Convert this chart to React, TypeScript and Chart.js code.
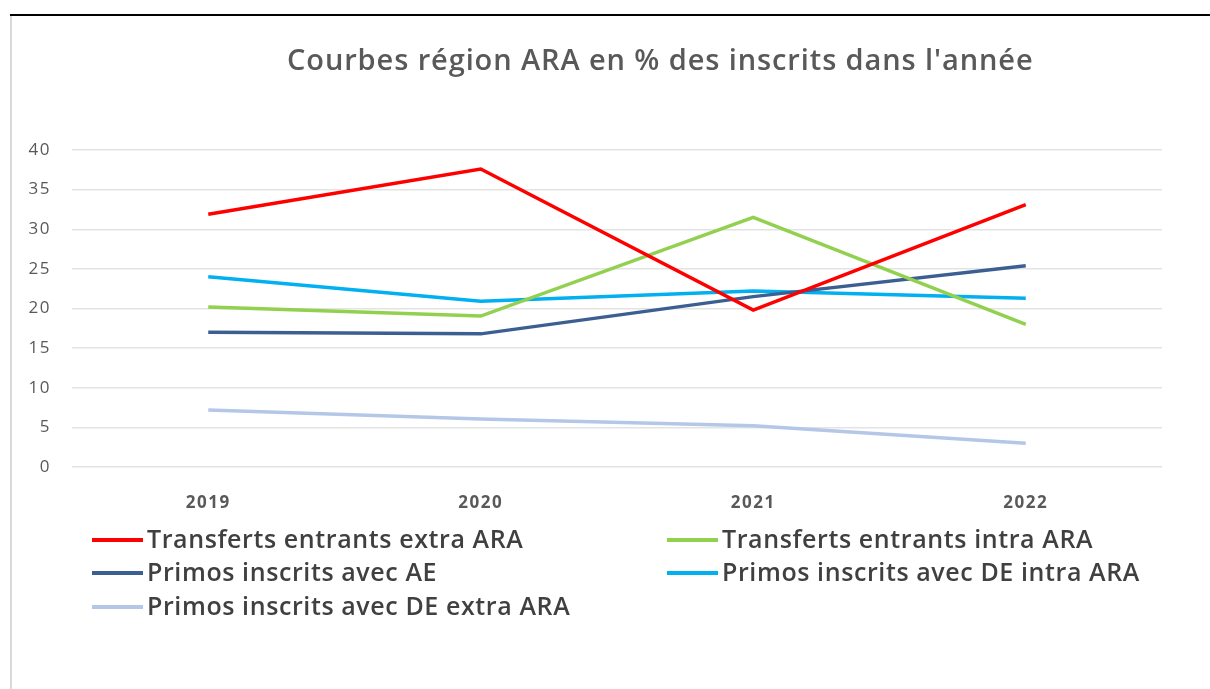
import React, { useEffect, useRef } from "react";
import { Chart, registerables } from "chart.js";

Chart.register(...registerables);

const categories = ["2019", "2020", "2021", "2022"];
const transfertsExtra = [31.9, 37.6, 19.8, 33.1];
const transfertsIntra = [20.2, 19.05, 31.5, 18.0];
const primosAE = [17.0, 16.8, 21.5, 25.4];
const primosDEIntra = [24.0, 20.9, 22.2, 21.3];
const primosDEExtra = [7.2, 6.05, 5.2, 3.0];
const yTicks = [0, 5, 10, 15, 20, 25, 30, 35, 40];

const seriesNames = [
  "Transferts entrants extra ARA",
  "Transferts entrants intra ARA",
  "Primos inscrits avec AE",
  "Primos inscrits avec DE intra ARA",
  "Primos inscrits avec DE extra ARA",
];
const seriesColors = ["#ff0000", "#92d050", "#3c5f91", "#00b0f0", "#b4c7e7"];
const titleText = "Courbes région ARA en % des inscrits dans l'année";

const FONT = "'Open Sans', 'Noto Sans', sans-serif";

const decorPlugin = {
  id: "decor",
  beforeDraw(chart: any) {
    const ctx = chart.ctx;
    ctx.save();
    ctx.fillStyle = "#ffffff";
    ctx.fillRect(0, 0, chart.width, chart.height);
    ctx.strokeStyle = "#000000";
    ctx.lineWidth = 2;
    ctx.beginPath();
    ctx.moveTo(10, 15);
    ctx.lineTo(chart.width, 15);
    ctx.stroke();
    ctx.strokeStyle = "#d9d9d9";
    ctx.lineWidth = 2;
    ctx.beginPath();
    ctx.moveTo(11, 16);
    ctx.lineTo(11, chart.height);
    ctx.stroke();
    ctx.fillStyle = "#595959";
    ctx.font = `600 29px ${FONT}`;
    (ctx as any).letterSpacing = "0.9px";
    ctx.textAlign = "left";
    ctx.textBaseline = "alphabetic";
    ctx.fillText(titleText, 287, 70);
    ctx.restore();
    (ctx as any).letterSpacing = "1.5px";
  },
  afterDraw(chart: any) {
    const ctx = chart.ctx;
    ctx.save();
    const pos = [
      [92, 540],
      [667, 540],
      [92, 573],
      [667, 573],
      [92, 607],
    ];
    chart.data.datasets.forEach((ds: any, i: number) => {
      const [x, y] = pos[i];
      ctx.strokeStyle = ds.borderColor;
      ctx.lineWidth = 4;
      ctx.lineCap = "butt";
      ctx.beginPath();
      ctx.moveTo(x, y);
      ctx.lineTo(x + 51, y);
      ctx.stroke();
      ctx.fillStyle = "#404040";
      ctx.font = `600 25px ${FONT}`;
      (ctx as any).letterSpacing = "0.6px";
      ctx.textAlign = "left";
      ctx.textBaseline = "alphabetic";
      ctx.fillText(ds.label, x + 55, y + 8);
    });
    ctx.restore();
  },
};

export default function App() {
  const ref = useRef<HTMLCanvasElement>(null);
  useEffect(() => {
    if (!ref.current) return;
    const values = [transfertsExtra, transfertsIntra, primosAE, primosDEIntra, primosDEExtra];
    const chart = new Chart(ref.current, {
      type: "line",
      data: {
        labels: categories,
        datasets: values.map((v, i) => ({
          label: seriesNames[i],
          data: v,
          borderColor: seriesColors[i],
          backgroundColor: seriesColors[i],
          borderWidth: 3.5,
          pointRadius: 0,
          tension: 0,
        })),
      },
      options: {
        animation: false,
        responsive: false,
        layout: { padding: { left: 12, right: 48, top: 150, bottom: 172 } },
        plugins: { legend: { display: false }, title: { display: false }, tooltip: { enabled: false } },
        scales: {
          x: {
            offset: true,
            grid: { display: false, drawTicks: false },
            border: { display: false },
            ticks: { color: "#595959", font: { family: FONT, size: 17, weight: "bold" }, padding: 26 },
            afterFit: (s: any) => { s.height = 50; },
          },
          y: {
            min: 0,
            max: 40,
            afterBuildTicks: (s: any) => { s.ticks = yTicks.map((v) => ({ value: v })); },
            grid: { color: "#e3e3e3", lineWidth: 1.5, drawTicks: false },
            border: { display: false },
            ticks: { color: "#595959", font: { family: FONT, size: 17 }, padding: 21 },
            afterFit: (s: any) => { s.width = 60; },
          },
        },
      },
      plugins: [decorPlugin],
    });
    return () => chart.destroy();
  }, []);
  return (
    <div style={{ position: "absolute", left: 0, top: 0, width: 1210, height: 689 }}>
      <canvas ref={ref} width={1210} height={689} style={{ width: 1210, height: 689, display: "block" }} />
    </div>
  );
}
